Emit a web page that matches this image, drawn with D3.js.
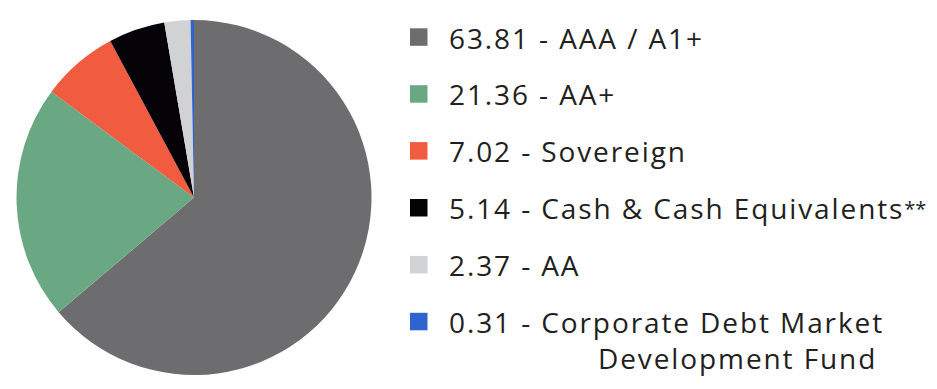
<!DOCTYPE html>
<html>
<head>
<meta charset="utf-8">
<script src="https://cdn.jsdelivr.net/npm/d3@7"></script>
<style>
  body { margin: 0; background: #fff; }
  text { font-family: "Open Sans", Lato, sans-serif; fill: #231f20; letter-spacing: 1.9px; }
</style>
</head>
<body>
<script>
// data
const categories = ["AAA / A1+", "AA+", "Sovereign", "Cash & Cash Equivalents**", "AA", "Corporate Debt Market"];
const subLabels = ["", "", "", "", "", "Development Fund"];
const values = [63.81, 21.36, 7.02, 5.14, 2.37, 0.31];
const colors = ["#6d6d6f", "#69a882", "#f15b40", "#050308", "#d1d2d4", "#2f64d0"];

const width = 937, height = 389;
const cx = 194, cy = 197.5, radius = 177.5;

let svg = d3.select("body")
    .append("svg")
    .attr("width", width)
    .attr("height", height);

let rows = values.map((v, i) => ({value: v, name: categories[i], sub: subLabels[i], color: colors[i]}));

// pie
let pie = d3.pie().sort(null).value(d => d.value);
let arc = d3.arc().innerRadius(0).outerRadius(radius);

svg.append("g")
    .attr("transform", `translate(${cx},${cy})`)
    .selectAll("path")
    .data(pie(rows))
    .enter().append("path")
    .attr("d", arc)
    .style("fill", d => d.data.color);

// legend
let y = d3.scalePoint()
    .domain(d3.range(rows.length))
    .range([37, 321.5]);

let legend = svg.append("g")
    .selectAll("g")
    .data(rows)
    .enter().append("g")
    .attr("transform", (d, i) => `translate(410,${y(i)})`);

legend.append("rect")
    .attr("x", 0)
    .attr("y", -8.7)
    .attr("width", 17.5)
    .attr("height", 17.5)
    .style("fill", d => d.color);

let label = legend.append("text")
    .attr("x", 39)
    .attr("y", 11.5)
    .style("font-size", "28px");

label.append("tspan")
    .text(d => d.value.toFixed(2) + " - " + d.name.replace("**", ""));

// footnote stars are small in the original
label.filter(d => d.name.endsWith("**"))
    .append("tspan")
    .attr("dy", -3)
    .style("font-size", "20px")
    .style("letter-spacing", "0px")
    .text("**");

legend.filter(d => d.sub !== "")
    .append("text")
    .attr("x", 188)
    .attr("y", 47.5)
    .style("font-size", "28px")
    .text(d => d.sub);
</script>
</body>
</html>
